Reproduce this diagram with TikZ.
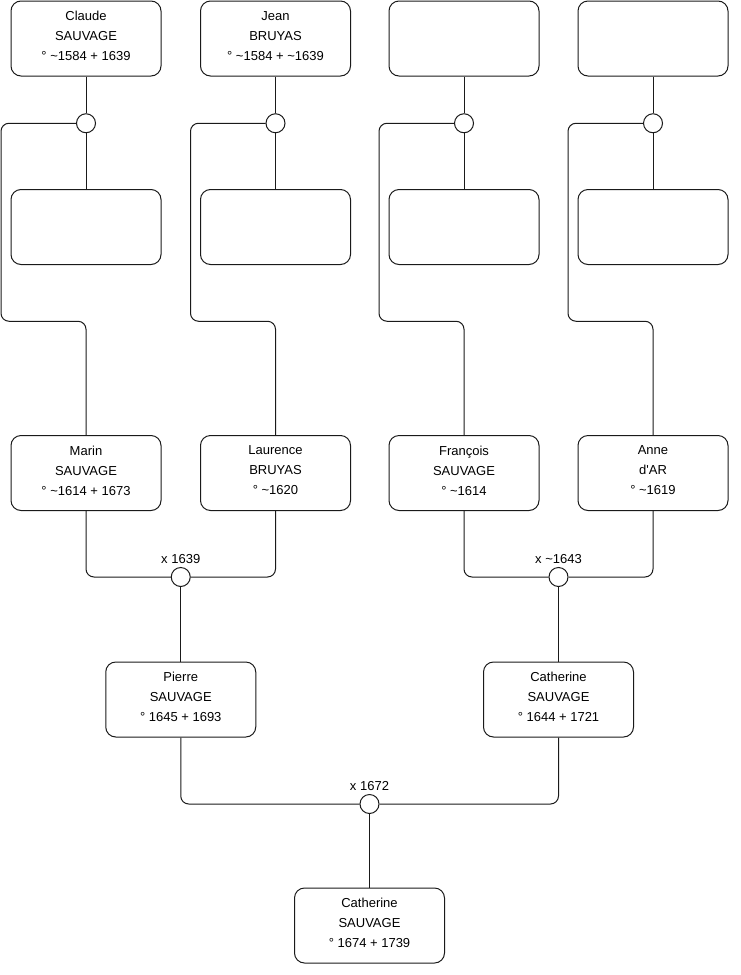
\documentclass[tikz,border=0pt]{standalone}
\usepackage{fontspec}
\setmainfont{Liberation Sans}
\usepackage{tikz}
\usetikzlibrary{calc,positioning}
\definecolor{TreeLine}{HTML}{1A1A1A}

\tikzset{
  pbox/.style={draw=TreeLine,line width=.75pt,rounded corners=7.5pt,minimum width=112.5pt,
    minimum height=56.25pt,align=center,inner sep=0pt,text depth=4pt,font=\fontsize{9.75}{15}\selectfont},
  union/.style={draw=TreeLine,line width=.75pt,circle,fill=white,minimum size=14.25pt,inner sep=0pt,
    label={[font=\fontsize{9.75}{11}\selectfont,inner sep=0pt,label distance=2pt]above:#1}},
  union/.default={},
  link/.style={draw=TreeLine,line width=.75pt,rounded corners=6pt}
}

\begin{document}
\begin{tikzpicture}[x=.75pt,y=-.75pt]
  \useasboundingbox (0,0) rectangle (740,975);
  % generation 1
  \node[pbox] (claude) at (86,38.5) {Claude\\SAUVAGE\\° \textasciitilde1584 + 1639};
  \node[pbox] (jean) at (275.5,38.5) {Jean\\BRUYAS\\° \textasciitilde1584 + \textasciitilde1639};
  \node[pbox] (topC) at (464,38.5) {};
  \node[pbox] (topD) at (653,38.5) {};
  % second partners
  \node[pbox] (midA) at (86,227) {};
  \node[pbox] (midB) at (275.5,227) {};
  \node[pbox] (midC) at (464,227) {};
  \node[pbox] (midD) at (653,227) {};
  % generation 2
  \node[pbox] (marin) at (86,473) {Marin\\SAUVAGE\\° \textasciitilde1614 + 1673};
  \node[pbox] (laurence) at (275.5,473) {Laurence\\BRUYAS\\° \textasciitilde1620};
  \node[pbox] (francois) at (464,473) {François\\SAUVAGE\\° \textasciitilde1614};
  \node[pbox] (anne) at (653,473) {Anne\\d\textquotesingle AR\\° \textasciitilde1619};
  % generation 3
  \node[pbox] (pierre) at (180.75,699.5) {Pierre\\SAUVAGE\\° 1645 + 1693};
  \node[pbox] (catherineA) at (558.5,699.5) {Catherine\\SAUVAGE\\° 1644 + 1721};
  \node[pbox] (catherineB) at (369.5,925.5) {Catherine\\SAUVAGE\\° 1674 + 1739};

  % unions of the first row
  \foreach \t/\m/\c/\n in {claude/midA/marin/uA,jean/midB/laurence/uB,topC/midC/francois/uC,topD/midD/anne/uD}{
    \node[union] (\n) at ($(\t.south)!.5!(\t.south |- 0,170)$) {};
    \draw[link] (\t.south) -- (\n.north);
    \draw[link] (\n.south) -- (\m.north);
    \draw[link] (\n.west) -| ($(\n)+(-85,198)$) -| (\c.north);
  }

  % marriages
  \node[union={x 1639}] (mA) at (180.75,577) {};
  \node[union={x \textasciitilde1643}] (mB) at (558.5,577) {};
  \node[union={x 1672}] (mC) at (369.5,804) {};
  \draw[link] (marin.south) |- (mA.west);
  \draw[link] (laurence.south) |- (mA.east);
  \draw[link] (mA.south) -- (pierre.north);
  \draw[link] (francois.south) |- (mB.west);
  \draw[link] (anne.south) |- (mB.east);
  \draw[link] (mB.south) -- (catherineA.north);
  \draw[link] (pierre.south) |- (mC.west);
  \draw[link] (catherineA.south) |- (mC.east);
  \draw[link] (mC.south) -- (catherineB.north);
\end{tikzpicture}
\end{document}
